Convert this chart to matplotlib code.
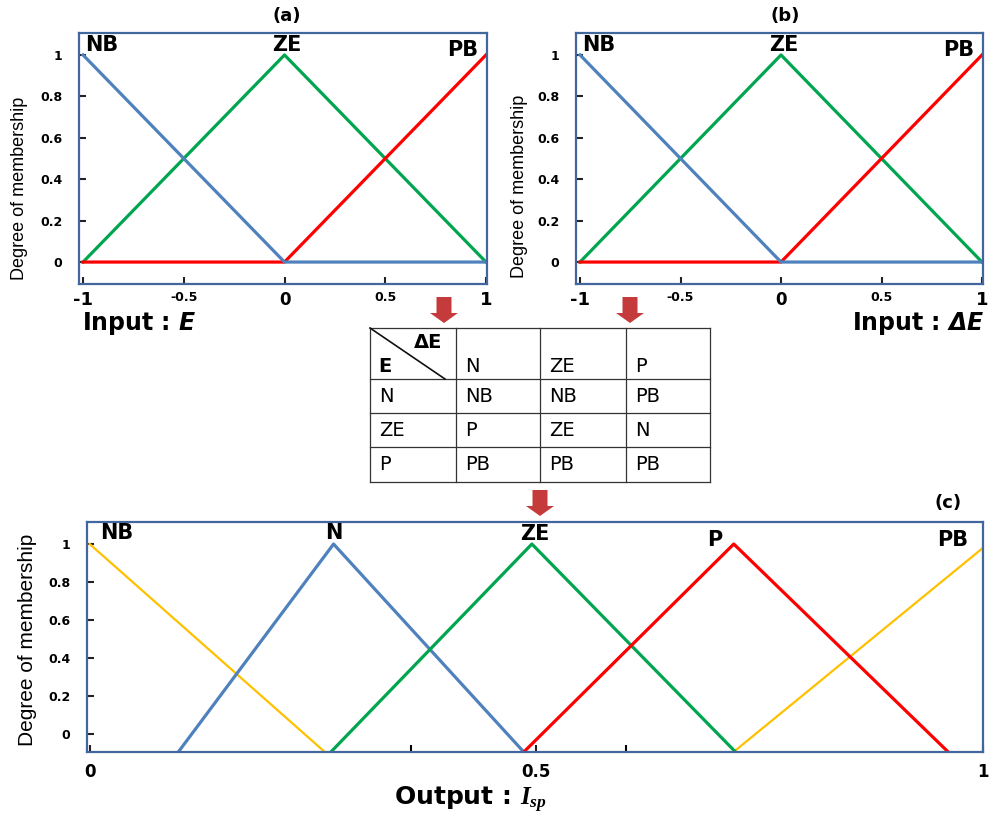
import matplotlib
matplotlib.use('Agg')
import matplotlib.pyplot as plt
from matplotlib.patches import FancyArrow

plt.rcParams['mathtext.fontset'] = 'custom'
plt.rcParams['mathtext.it'] = 'Liberation Serif:italic:bold'
plt.rcParams['mathtext.sf'] = 'DejaVu Sans:italic:bold'

# input membership functions (a) and (b)
in_x = [-1, 0, 1]
in_nb = [1, 0, 0]
in_ze = [0, 1, 0]
in_pb = [0, 0, 1]
in_names = ['NB', 'ZE', 'PB']
in_name_x = [-0.906, 0.012, 0.886]
in_name_y = [1.048, 1.048, 1.024]
in_xticks = [-1, -0.5, 0, 0.5, 1]
in_xticklabels = ['-1', '-0.5', '0', '0.5', '1']
in_xtick_sizes = [13, 9, 12, 9, 13]
yticks = [0, 0.2, 0.4, 0.6, 0.8, 1]
yticklabels = ['0', '0.2', '0.4', '0.6', '0.8', '1']

# output membership functions (c), bases drawn at the bottom of the frame
base = -0.09
out_nb_x = [0, 0.262]
out_nb_y = [1, base]
out_n_x = [0.10, 0.273, 0.485]
out_ze_x = [0.271, 0.495, 0.722]
out_p_x = [0.487, 0.721, 0.96]
out_tri_y = [base, 1, base]
out_pb_x = [0.722, 1.0]
out_pb_y = [base, 0.98]
out_names = ['NB', 'N', 'ZE', 'P', 'PB']
out_name_x = [0.030, 0.273, 0.498, 0.700, 0.966]
out_name_y = [1.058, 1.058, 1.053, 1.021, 1.021]
out_xticks = [0, 0.5, 1]
out_xticklabels = ['0', '0.5', '1']

# rule table
col_heads = ['N', 'ZE', 'P']
row_heads = ['N', 'ZE', 'P']
rules = [['NB', 'NB', 'PB'],
         ['P', 'ZE', 'N'],
         ['PB', 'PB', 'PB']]

BLUE = '#4f81bd'
GREEN = '#00a54f'
RED = '#ff0000'
YELLOW = '#ffc000'
FRAME = '#41679e'
ARROW = '#c53a3a'

W, H = 989, 821
fig = plt.figure(figsize=(W / 100, H / 100), dpi=100)


def style_axes(ax, ylabel_fs):
    for s in ax.spines.values():
        s.set_color(FRAME)
        s.set_linewidth(1.6)
    ax.tick_params(axis='both', direction='in', length=5, width=1.5, color='#222222')
    ax.tick_params(axis='y', pad=12)
    ax.set_yticks(yticks)
    ax.set_yticklabels(yticklabels, fontsize=9, fontweight='bold')
    ax.set_ylabel('Degree of membership', fontsize=ylabel_fs,
                  family=['Liberation Sans', 'DejaVu Sans'])


def input_panel(rect, title, title_x, label_coords):
    ax = fig.add_axes(rect)
    ax.plot(in_x, in_ze, color=GREEN, lw=2.3)
    ax.plot(in_x, in_pb, color=RED, lw=2.3)
    ax.plot(in_x, in_nb, color=BLUE, lw=2.3)
    ax.set_xlim(-1.02, 1.005)
    ax.set_ylim(-0.106, 1.106)
    style_axes(ax, 13)
    ax.yaxis.set_label_coords(*label_coords)
    ax.set_xticks(in_xticks)
    ax.set_xticklabels(in_xticklabels, fontweight='bold')
    for lab, fs in zip(ax.get_xticklabels(), in_xtick_sizes):
        lab.set_fontsize(fs)
    ax.tick_params(axis='x', pad=5)
    for name, x, y in zip(in_names, in_name_x, in_name_y):
        ax.text(x, y, name, fontsize=15, fontweight='bold', ha='center', va='center')
    ax.text(title_x, 1.068, title, transform=ax.transAxes, fontsize=13,
            fontweight='bold', ha='center', va='center')
    return ax


ax_a = input_panel([79 / W, 1 - 284 / H, 408 / W, 251 / H], '(a)', 0.51, (-0.125, 0.38))
ax_b = input_panel([576 / W, 1 - 284 / H, 407 / W, 251 / H], '(b)', 0.513, (-0.118, 0.39))

fig.text(82 / W, 1 - 323 / H, r'Input : $\mathsf{E}$', fontsize=17,
         fontweight='bold', ha='left', va='center')
fig.text(985 / W, 1 - 323 / H, r'Input : $\mathsf{\Delta E}$', fontsize=17,
         fontweight='bold', ha='right', va='center')

# output panel (c)
ax_c = fig.add_axes([87 / W, 1 - 752 / H, 896 / W, 230 / H])
ax_c.plot(out_nb_x, out_nb_y, color=YELLOW, lw=1.6)
ax_c.plot(out_pb_x, out_pb_y, color=YELLOW, lw=1.6)
ax_c.plot(out_n_x, out_tri_y, color=BLUE, lw=2.3)
ax_c.plot(out_ze_x, out_tri_y, color=GREEN, lw=2.3)
ax_c.plot(out_p_x, out_tri_y, color=RED, lw=2.3)
ax_c.set_xlim(-0.003, 1.0)
ax_c.set_ylim(-0.095, 1.116)
style_axes(ax_c, 15)
ax_c.yaxis.set_label_coords(-0.056, 0.487)
ax_c.set_xticks(out_xticks)
ax_c.set_xticklabels(out_xticklabels, fontsize=12, fontweight='bold')
ax_c.set_xticks([0.36, 0.6], minor=True)
ax_c.tick_params(axis='x', which='both', direction='in', length=5, width=1.5, pad=8)
for name, x, y in zip(out_names, out_name_x, out_name_y):
    ax_c.text(x, y, name, fontsize=15, fontweight='bold', ha='center', va='center')
ax_c.text(0.961, 1.083, '(c)', transform=ax_c.transAxes, fontsize=13,
          fontweight='bold', ha='center', va='center')
fig.text(470 / W, 1 - 800 / H, r'Output : $I_{sp}$', fontsize=18,
         fontweight='bold', ha='center', va='center')

# overlay in pixel units for the rule table and arrows
ov = fig.add_axes([0, 0, 1, 1])
ov.set_xlim(0, W)
ov.set_ylim(H, 0)
ov.axis('off')
ov.patch.set_alpha(0)

col_edges = [370, 456, 540, 626, 710]
row_edges = [328, 379, 413, 447, 482]
for x in col_edges:
    ov.plot([x, x], [row_edges[0], row_edges[-1]], color='#333333', lw=0.9)
for y in row_edges:
    ov.plot([col_edges[0], col_edges[-1]], [y, y], color='#333333', lw=0.9)
ov.plot([col_edges[0], 445], [row_edges[0], row_edges[1]], color='#111111', lw=1.2)
ov.text(428, 342, 'ΔE', fontsize=14, fontweight='bold', ha='center', va='center')
ov.text(378, 366, 'E', fontsize=14, fontweight='bold', ha='left', va='center')
for j, h in enumerate(col_heads):
    ov.text(col_edges[j + 1] + 9, 366, h, fontsize=14, ha='left', va='center')
for i, h in enumerate(row_heads):
    yc = (row_edges[i + 1] + row_edges[i + 2]) / 2
    ov.text(col_edges[0] + 9, yc, h, fontsize=14, ha='left', va='center')
    for j, r in enumerate(rules[i]):
        ov.text(col_edges[j + 1] + 9, yc, r, fontsize=14, ha='left', va='center')

for ax_x, y0, y1 in [(444, 297, 323), (630, 297, 323), (540, 490, 516)]:
    ov.add_patch(FancyArrow(ax_x, y0, 0, y1 - y0, width=15, head_width=28,
                            head_length=10, length_includes_head=True,
                            color=ARROW, lw=0))

plt.savefig('out.png', dpi=100)
